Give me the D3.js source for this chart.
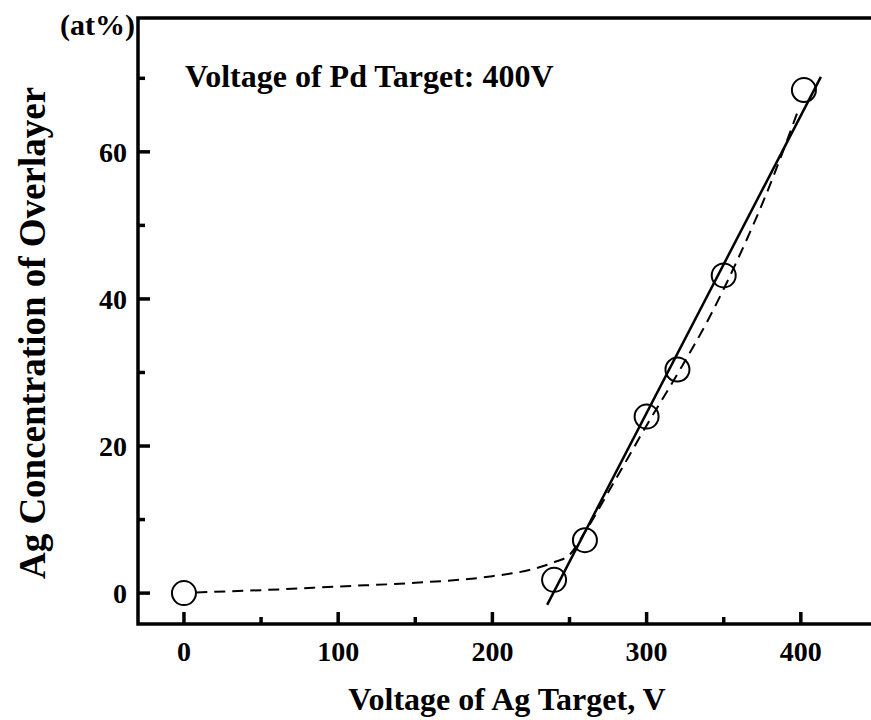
<!DOCTYPE html>
<html>
<head>
<meta charset="utf-8">
<script src="https://cdn.jsdelivr.net/npm/d3@7"></script>
<style>
  body { margin: 0; background: #fff; }
  text { font-family: "Liberation Serif", "Times New Roman", serif; font-weight: bold; fill: #000; }
</style>
</head>
<body>
<div id="container"></div>
<script>
// Data
var voltage = [0, 240, 260, 300, 320, 350, 402];          // Ag target voltage (V)
var concentration = [0, 1.8, 7.2, 24, 30.4, 43.2, 68.4];    // Ag concentration (at%)
var fitLine = [[235.5, -1.6], [413, 70.2]];                 // solid linear fit
var dashVoltage = [8, 50, 100, 150, 200, 225, 240, 250, 260, 280, 300, 320, 340, 360, 380, 398];
var dashConc = [0.1, 0.4, 0.9, 1.4, 2.3, 3.2, 4.2, 5.2, 8.3, 15.5, 22.8, 29.8, 37.2, 45.8, 55.5, 65.5];
var xTicks = [0, 100, 200, 300, 400];
var xMinor = [50, 150, 250, 350];
var yTicks = [0, 20, 40, 60];
var yMinor = [10, 30, 50, 70];

var w = 871, h = 720;
var pLeft = 138, pTop = 18, pRight = 871, pBottom = 624;

var svg = d3.select("#container").append("svg")
  .attr("width", w)
  .attr("height", h);

var x = d3.scaleLinear().domain([-29.8, 445.5]).range([pLeft, pRight]);
var y = d3.scaleLinear().domain([-4.2, 78.2]).range([pBottom, pTop]);

// Frame
svg.append("path")
  .attr("d", "M" + pRight + "," + pTop + "H" + pLeft + "V" + pBottom + "H" + pRight)
  .attr("fill", "none")
  .attr("stroke", "#000")
  .attr("stroke-width", 3.5);

// Ticks (inward)
var g = svg.append("g").attr("stroke", "#000").attr("stroke-width", 3.5);
g.selectAll("line.xmaj").data(xTicks).enter().append("line")
  .attr("x1", d => x(d)).attr("x2", d => x(d))
  .attr("y1", pBottom).attr("y2", pBottom - 12);
g.selectAll("line.xmin").data(xMinor).enter().append("line")
  .attr("x1", d => x(d)).attr("x2", d => x(d))
  .attr("y1", pBottom).attr("y2", pBottom - 7);
g.selectAll("line.ymaj").data(yTicks).enter().append("line")
  .attr("x1", pLeft).attr("x2", pLeft + 12)
  .attr("y1", d => y(d)).attr("y2", d => y(d));
g.selectAll("line.ymin").data(yMinor).enter().append("line")
  .attr("x1", pLeft).attr("x2", pLeft + 7)
  .attr("y1", d => y(d)).attr("y2", d => y(d));

// Tick labels
svg.selectAll("text.xt").data(xTicks).enter().append("text")
  .attr("x", d => x(d)).attr("y", 661)
  .attr("text-anchor", "middle")
  .style("font-size", "28px")
  .text(d => d);
svg.selectAll("text.yt").data(yTicks).enter().append("text")
  .attr("x", 127).attr("y", d => y(d) + 10)
  .attr("text-anchor", "end")
  .style("font-size", "28px")
  .text(d => d);

// Dashed curve
var line = d3.line().x(d => x(d[0])).y(d => y(d[1])).curve(d3.curveMonotoneX);
svg.append("path")
  .datum(dashVoltage.map((v, i) => [v, dashConc[i]]))
  .attr("d", line)
  .attr("fill", "none")
  .attr("stroke", "#000")
  .attr("stroke-width", 2)
  .attr("stroke-dasharray", "11,7");

// Solid fit line
svg.append("path")
  .datum(fitLine)
  .attr("d", d3.line().x(d => x(d[0])).y(d => y(d[1])))
  .attr("fill", "none")
  .attr("stroke", "#000")
  .attr("stroke-width", 2.5);

// Points
svg.selectAll("circle").data(voltage).enter().append("circle")
  .attr("cx", d => x(d))
  .attr("cy", (d, i) => y(concentration[i]))
  .attr("r", 12)
  .attr("fill", "#fff")
  .attr("fill-opacity", 0)
  .attr("stroke", "#000")
  .attr("stroke-width", 2);

// Labels
svg.append("text")
  .attr("x", 185).attr("y", 87)
  .style("font-size", "32px")
  .text("Voltage of Pd Target: 400V");

svg.append("text")
  .attr("x", 135).attr("y", 35)
  .attr("text-anchor", "end")
  .style("font-size", "30px")
  .text("(at%)");

svg.append("text")
  .attr("x", 507).attr("y", 710)
  .attr("text-anchor", "middle")
  .style("font-size", "32px")
  .text("Voltage of Ag Target, V");

svg.append("text")
  .attr("transform", "translate(45,333) rotate(-90)")
  .attr("text-anchor", "middle")
  .style("font-size", "37px")
  .text("Ag Concentration of Overlayer");
</script>
</body>
</html>
